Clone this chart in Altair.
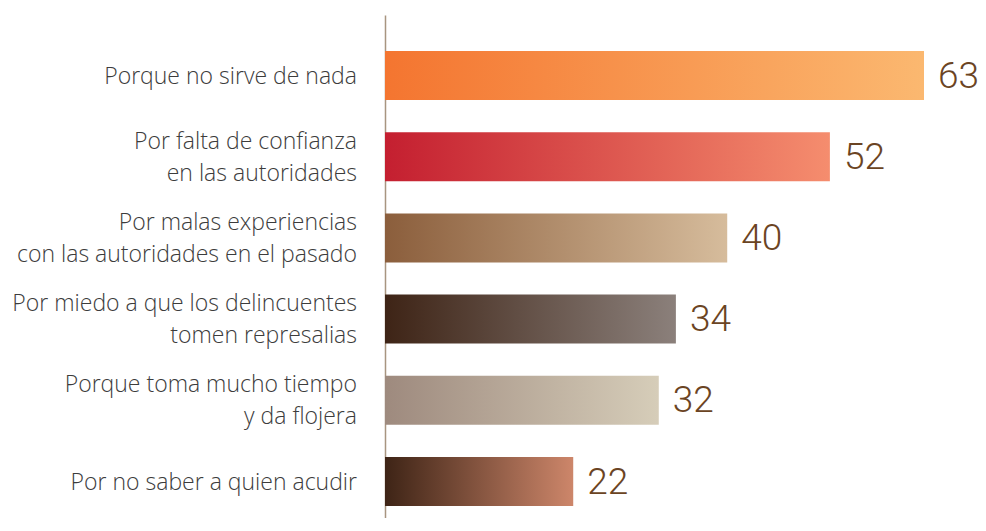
import altair as alt
import pandas as pd

categories = [
    "Porque no sirve de nada",
    "Por falta de confianza|en las autoridades",
    "Por malas experiencias|con las autoridades en el pasado",
    "Por miedo a que los delincuentes|tomen represalias",
    "Porque toma mucho tiempo|y da flojera",
    "Por no saber a quien acudir",
]
values = [63, 52, 40, 34, 32, 22]
start_colors = ["#F47530", "#C41F30", "#8B5E3C", "#3E2416", "#9E8A7E", "#3E2416"]
end_colors = ["#FBB870", "#F58D6E", "#D6BC9C", "#8B807B", "#D6CDB9", "#CD866A"]

LINE_H = 32

df = pd.DataFrame({"cat": categories, "val": values})

# one row per text line of the category labels
rows = []
for c in categories:
    parts = c.split("|")
    for k, p in enumerate(parts):
        rows.append({"cat": c, "line": p, "n": len(parts), "k": k})
lab_df = pd.DataFrame(rows)

y_enc = alt.Y(
    "cat:N",
    sort=categories,
    scale=alt.Scale(domain=categories, paddingInner=0.3966, paddingOuter=0.2956, align=0.75),
    axis=alt.Axis(
        title=None,
        ticks=False,
        labels=False,
        domain=True,
        domainColor="#A89580",
        domainWidth=1.5,
    ),
)
x_enc = alt.X("val:Q", scale=alt.Scale(domain=[0, 63], nice=False, zero=True), axis=None)

base = alt.Chart(df)
layers = []
for i, c in enumerate(categories):
    grad = alt.Gradient(
        gradient="linear",
        stops=[
            alt.GradientStop(color=start_colors[i], offset=0),
            alt.GradientStop(color=end_colors[i], offset=1),
        ],
        x1=0, x2=1, y1=0, y2=0,
    )
    layers.append(
        base.transform_filter(alt.datum.cat == c)
        .mark_bar(color=grad)
        .encode(x=x_enc, y=y_enc)
    )

values_text = base.mark_text(
    align="left", baseline="middle", dx=14, dy=1,
    font="Roboto", fontWeight=300, fontSize=37, color="#6B4423",
).encode(x=x_enc, y=y_enc, text="val:Q")

lab_base = alt.Chart(lab_df)
txt_style = dict(align="right", baseline="middle", font="Open Sans", fontWeight=300,
                 fontSize=23, color="#3C3C3C")
lab_enc = dict(x=alt.value(-28), y=alt.Y("cat:N", sort=categories), text="line:N")

single = lab_base.transform_filter(alt.datum.n == 1).mark_text(dy=1, **txt_style).encode(**lab_enc)
first = lab_base.transform_filter((alt.datum.n == 2) & (alt.datum.k == 0)).mark_text(
    dy=1 - LINE_H / 2, **txt_style).encode(**lab_enc)
second = lab_base.transform_filter((alt.datum.n == 2) & (alt.datum.k == 1)).mark_text(
    dy=1 + LINE_H / 2, **txt_style).encode(**lab_enc)

chart = alt.layer(*layers, values_text, single, first, second).properties(
    width=539,
    height=503,
    autosize="none",
    padding={"left": 377, "top": 7, "right": 54, "bottom": 0},
).configure_view(stroke=None)

chart.save("out.html", embed_options={"renderer": "svg", "actions": False})
